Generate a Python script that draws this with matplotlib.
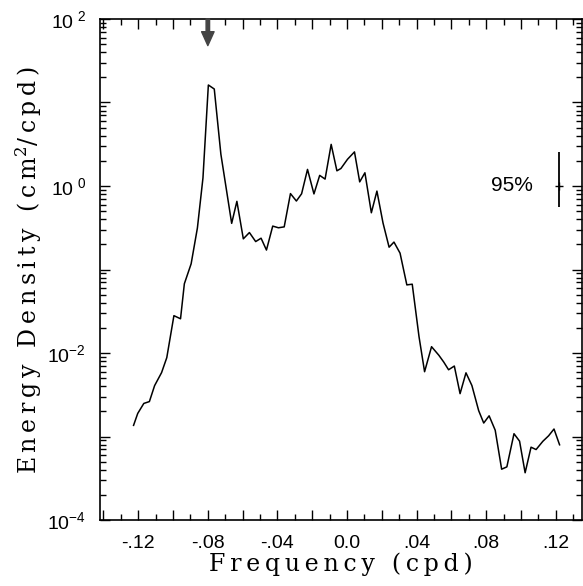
import math
import matplotlib
matplotlib.use("Agg")
from matplotlib import pyplot as plt
from matplotlib import ticker as mticker

# spectrum
freq = [-0.1227, -0.1203, -0.1168, -0.1136, -0.1106, -0.1066, -0.1036, -0.0995,
        -0.0957, -0.0935, -0.0896, -0.0860, -0.0828, -0.0797, -0.0763, -0.0725,
        -0.0663, -0.0633, -0.0596, -0.0561, -0.0525, -0.0494, -0.0463, -0.0427,
        -0.0394, -0.0361, -0.0325, -0.0291, -0.0261, -0.0227, -0.0190, -0.0157,
        -0.0126, -0.0091, -0.0058, -0.0035, 0.0003, 0.0043, 0.0073, 0.0103,
        0.0140, 0.0172, 0.0207, 0.0242, 0.0270, 0.0305, 0.0344, 0.0375,
        0.0414, 0.0446, 0.0486, 0.0528, 0.0556, 0.0584, 0.0617, 0.0650,
        0.0684, 0.0718, 0.0757, 0.0786, 0.0817, 0.0852, 0.0889, 0.0919,
        0.0960, 0.0992, 0.1024, 0.1058, 0.1087, 0.1126, 0.1159, 0.1190, 0.1222]
energy = [1.36e-3, 1.89e-3, 2.49e-3, 2.62e-3, 4.07e-3, 5.82e-3, 8.8e-3, 0.028,
          0.0257, 0.0675, 0.117, 0.314, 1.25, 16.2, 14.5, 2.40,
          0.357, 0.655, 0.233, 0.277, 0.216, 0.237, 0.171, 0.331,
          0.316, 0.324, 0.811, 0.661, 0.807, 1.58, 0.804, 1.34,
          1.21, 3.15, 1.52, 1.62, 2.09, 2.56, 1.12, 1.44,
          0.478, 0.869, 0.361, 0.185, 0.213, 0.157, 0.0654, 0.0667,
          0.0157, 5.97e-3, 0.0119, 9.4e-3, 7.8e-3, 6.3e-3, 6.98e-3, 3.26e-3,
          5.79e-3, 4.08e-3, 2.04e-3, 1.45e-3, 1.77e-3, 1.19e-3, 4.06e-4, 4.33e-4,
          1.08e-3, 8.8e-4, 3.68e-4, 7.45e-4, 6.98e-4, 8.77e-4, 1.02e-3, 1.23e-3, 7.96e-4]

peak_freq = -0.08          # arrow marker
ci_freq = 0.122            # 95% confidence bar
ci_center = 1.0
ci_low, ci_high = 0.565, 2.58

x_labels = {-0.12: "-.12", -0.08: "-.08", -0.04: "-.04", 0.0: "0.0",
            0.04: ".04", 0.08: ".08", 0.12: ".12"}

plt.rcParams['font.family'] = ['Liberation Sans', 'DejaVu Sans']
plt.rcParams['axes.unicode_minus'] = False
plt.rcParams['mathtext.fontset'] = 'dejavuserif'

def spaced(s):
    # the original labels are letter-spaced
    return "\u2009".join(s)

fig = plt.figure(figsize=(5.83, 5.86), dpi=100)
ax = fig.add_axes([0.1715, 0.1126, 0.8265, 0.855])

ax.plot(freq, energy, color='black', linewidth=1.1)
ax.set_yscale('log')
ax.set_xlim(-0.142, 0.135)
ax.set_ylim(1e-4, 1e2)

# ticks
ax.xaxis.set_major_locator(mticker.MultipleLocator(0.02))
ax.xaxis.set_minor_locator(mticker.MultipleLocator(0.01))
def fmt_x(v, pos):
    for k, s in x_labels.items():
        if abs(v - k) < 1e-6:
            return s
    return ""
ax.xaxis.set_major_formatter(mticker.FuncFormatter(fmt_x))
ax.yaxis.set_major_locator(mticker.LogLocator(base=10, numticks=10))
ax.yaxis.set_minor_locator(mticker.LogLocator(base=10, subs=range(2, 10), numticks=20))
ax.yaxis.set_minor_formatter(mticker.NullFormatter())
def fmt_y(v, pos):
    e = int(round(math.log10(v)))
    if e % 2:
        return ""
    if e < 0:
        return r"$\mathdefault{10^{%d}}$" % e
    return r"$\mathdefault{10^{\,\,%d}}$" % e
ax.yaxis.set_major_formatter(mticker.FuncFormatter(fmt_y))
ax.tick_params(which='both', direction='in', top=True, right=True, labelsize=14, width=1.0)
ax.tick_params(which='major', length=7)
ax.tick_params(which='minor', length=4)
ax.tick_params(axis='x', pad=11)
ax.tick_params(axis='y', pad=10)
for s in ax.spines.values():
    s.set_linewidth(1.2)

ax.set_xlabel(spaced("Frequency (cpd)"), family='DejaVu Serif', fontsize=17, labelpad=0)
ax.set_ylabel(spaced("Energy Density (cm") + "$^2$" + spaced("/cpd)"),
              family='DejaVu Serif', fontsize=17, labelpad=2)

# arrow at the tidal peak
ax.annotate('', xy=(peak_freq, 48), xytext=(peak_freq, 100),
            arrowprops=dict(facecolor='#444444', edgecolor='#444444', width=2.5,
                            headwidth=9, headlength=10, shrink=0))

# 95% confidence interval
ax.errorbar([ci_freq], [ci_center], yerr=[[ci_center - ci_low], [ci_high - ci_center]],
            fmt='+', color='black', markersize=6, capsize=0, elinewidth=1.3)
ax.text(0.107, ci_center, "95%", fontsize=15, ha='right', va='center')

fig.savefig("out.png", dpi=100)
